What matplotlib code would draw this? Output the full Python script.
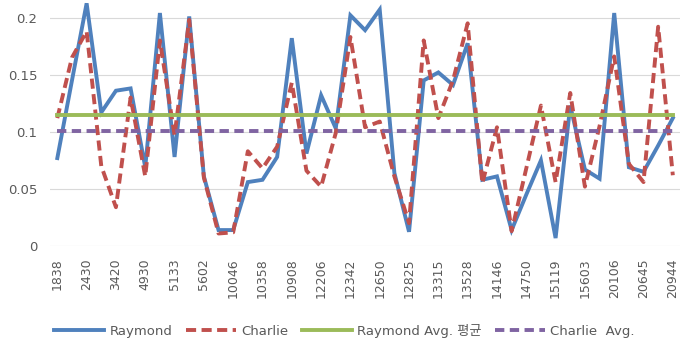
import numpy as np
import matplotlib
matplotlib.use("Agg")
import matplotlib.pyplot as plt

# ── Data ──────────────────────────────────
tick_labels = ["1838", "2430", "3420", "4930", "5133", "5602", "10046", "10358",
               "10908", "12206", "12342", "12650", "12825", "13315", "13528",
               "14146", "14750", "15119", "15603", "20106", "20645", "20944"]

raymond = [0.077, 0.145, 0.2125, 0.117, 0.136, 0.138, 0.069, 0.204, 0.078, 0.201,
           0.061, 0.014, 0.014, 0.056, 0.058, 0.078, 0.182, 0.081, 0.132, 0.103,
           0.202, 0.189, 0.207, 0.064, 0.0125, 0.145, 0.152, 0.141, 0.1775, 0.058,
           0.061, 0.014, 0.045, 0.075, 0.007, 0.123, 0.067, 0.059, 0.204, 0.069,
           0.065, 0.088, 0.112]

charlie = [0.112, 0.165, 0.188, 0.070, 0.034, 0.130, 0.061, 0.180, 0.097, 0.198,
           0.060, 0.011, 0.012, 0.083, 0.068, 0.087, 0.143, 0.066, 0.052, 0.099,
           0.183, 0.104, 0.109, 0.061, 0.020, 0.180, 0.112, 0.145, 0.195, 0.055,
           0.104, 0.013, 0.068, 0.123, 0.056, 0.134, 0.052, 0.105, 0.166, 0.072,
           0.056, 0.192, 0.062]

raymond_avg = 0.115
charlie_avg = 0.101

# ── Style ─────────────────────────────────
plt.rcParams['font.family'] = ['DejaVu Sans', 'Noto Sans CJK KR']
BLUE = "#4F81BD"
RED = "#C0504D"
GREEN = "#9BBB59"
PURPLE = "#8064A2"
TEXT = "#595959"

x = np.arange(len(raymond))

fig = plt.figure(figsize=(6.82, 3.38), dpi=100)
ax = fig.add_axes([0.0733, 0.272, 0.924, 0.728])

ax.plot(x, raymond, color=BLUE, lw=2.8, label="Raymond", clip_on=False,
        solid_joinstyle="miter")
ax.plot(x, charlie, color=RED, lw=2.8, dashes=(2.6, 1.4), label="Charlie",
        clip_on=False)
ax.plot(x, [raymond_avg] * len(x), color=GREEN, lw=2.8, label="Raymond Avg. 평균")
ax.plot(x, [charlie_avg] * len(x), color=PURPLE, lw=2.8, dashes=(2.4, 1.4),
        label="Charlie  Avg.")

ax.set_xlim(-0.5, len(x) - 0.5)
ax.set_ylim(0, 0.2154)
ax.set_yticks([0, 0.05, 0.1, 0.15, 0.2])
ax.set_yticklabels(["0", "0.05", "0.1", "0.15", "0.2"])
ax.set_xticks(x[::2])
ax.set_xticklabels(tick_labels, rotation=90)

ax.grid(axis="y", color="#D9D9D9", lw=0.8)
ax.set_axisbelow(True)
for s in ax.spines.values():
    s.set_visible(False)
ax.tick_params(length=0, colors=TEXT, labelsize=9)
ax.tick_params(axis="y", pad=9, labelsize=9.5)
ax.tick_params(axis="x", pad=9)

fig.legend(loc="lower center", bbox_to_anchor=(0.505, -0.035), ncol=4,
           frameon=False, fontsize=9.5, labelcolor=TEXT, handlelength=3.8,
           columnspacing=1.0, handletextpad=0.4)

fig.savefig("out.png", dpi=100)
